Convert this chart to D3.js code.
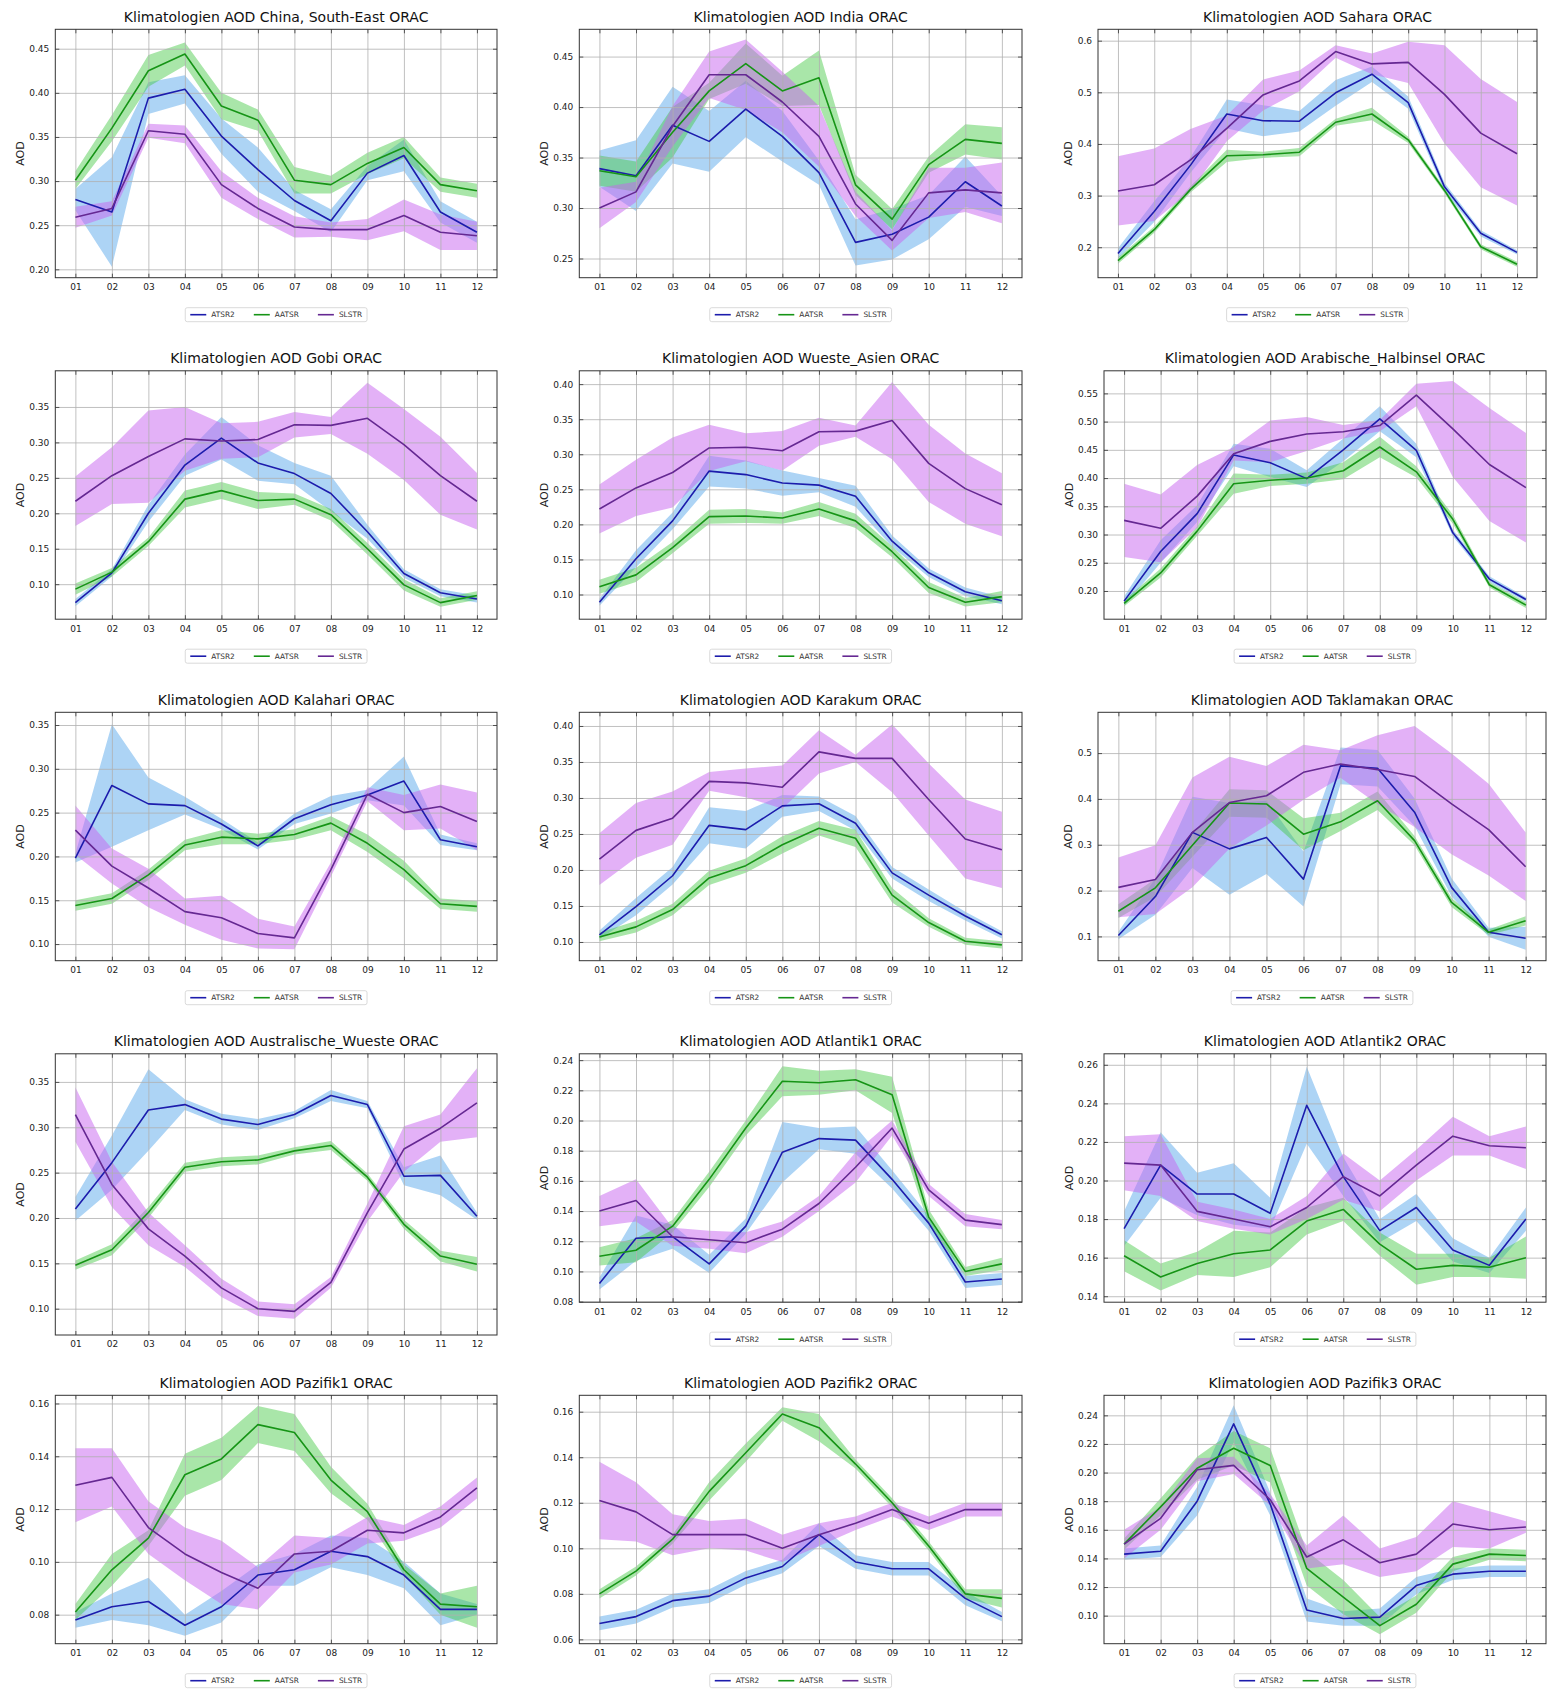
<!DOCTYPE html>
<html><head><meta charset="utf-8">
<script src="https://cdn.jsdelivr.net/npm/d3@7"></script>
<style>body{margin:0;background:#fff} text{font-family:"DejaVu Sans",sans-serif}</style>
</head><body><svg id="c" width="1551" height="1691"></svg>
<script>
const months = ["01","02","03","04","05","06","07","08","09","10","11","12"];
const regions = ["China, South-East","India","Sahara","Gobi","Wueste_Asien","Arabische_Halbinsel","Kalahari","Karakum","Taklamakan","Australische_Wueste","Atlantik1","Atlantik2","Pazifik1","Pazifik2","Pazifik3"];
const seriesNames = ["ATSR2","AATSR","SLSTR"];

const atsr2Mean = [
 [0.279,0.265,0.394,0.404,0.351,0.313,0.278,0.255,0.309,0.329,0.265,0.242],
 [0.339,0.332,0.382,0.366,0.398,0.371,0.335,0.266,0.274,0.291,0.326,0.302],
 [0.188,0.269,0.359,0.458,0.445,0.444,0.499,0.535,0.480,0.317,0.227,0.190],
 [0.074,0.116,0.200,0.268,0.306,0.271,0.256,0.228,0.174,0.115,0.088,0.079],
 [0.089,0.151,0.205,0.276,0.271,0.259,0.256,0.240,0.176,0.131,0.104,0.091],
 [0.182,0.270,0.337,0.441,0.427,0.399,0.450,0.505,0.449,0.303,0.221,0.185],
 [0.198,0.281,0.260,0.258,0.237,0.212,0.243,0.259,0.270,0.286,0.219,0.211],
 [0.110,0.149,0.192,0.262,0.256,0.289,0.292,0.265,0.196,0.165,0.136,0.110],
 [0.102,0.187,0.327,0.291,0.316,0.225,0.472,0.467,0.371,0.207,0.109,0.096],
 [0.210,0.261,0.319,0.325,0.309,0.303,0.314,0.335,0.325,0.246,0.247,0.202],
 [0.092,0.122,0.123,0.105,0.130,0.179,0.188,0.187,0.161,0.132,0.093,0.095],
 [0.175,0.208,0.193,0.193,0.183,0.239,0.202,0.174,0.186,0.164,0.156,0.180],
 [0.078,0.083,0.085,0.076,0.083,0.095,0.097,0.104,0.102,0.095,0.082,0.082],
 [0.067,0.070,0.077,0.079,0.087,0.092,0.106,0.094,0.091,0.091,0.078,0.070],
 [0.143,0.145,0.180,0.234,0.178,0.104,0.098,0.099,0.121,0.129,0.131,0.131]
];
const atsr2Sd = [
 [0.012,0.062,0.018,0.016,0.020,0.025,0.012,0.013,0.008,0.018,0.012,0.012],
 [0.018,0.035,0.038,0.030,0.028,0.025,0.012,0.023,0.025,0.022,0.025,0.010],
 [0.010,0.020,0.015,0.028,0.030,0.020,0.025,0.015,0.012,0.008,0.006,0.004],
 [0.005,0.005,0.012,0.015,0.030,0.025,0.015,0.025,0.010,0.006,0.005,0.005],
 [0.005,0.012,0.012,0.022,0.020,0.018,0.010,0.015,0.008,0.006,0.006,0.005],
 [0.008,0.020,0.015,0.020,0.025,0.015,0.020,0.022,0.012,0.006,0.005,0.004],
 [0.005,0.070,0.030,0.010,0.006,0.004,0.006,0.010,0.006,0.028,0.006,0.004],
 [0.006,0.012,0.012,0.025,0.026,0.015,0.010,0.010,0.008,0.008,0.006,0.005],
 [0.008,0.040,0.078,0.100,0.080,0.060,0.040,0.040,0.030,0.020,0.010,0.025],
 [0.013,0.030,0.045,0.006,0.006,0.006,0.004,0.006,0.004,0.010,0.022,0.004],
 [0.004,0.015,0.008,0.006,0.005,0.020,0.007,0.009,0.006,0.005,0.004,0.004],
 [0.009,0.017,0.011,0.016,0.008,0.020,0.010,0.006,0.007,0.006,0.004,0.006],
 [0.003,0.005,0.009,0.004,0.006,0.004,0.006,0.006,0.007,0.005,0.006,0.002],
 [0.003,0.003,0.003,0.003,0.003,0.003,0.005,0.003,0.003,0.003,0.003,0.002],
 [0.004,0.004,0.010,0.013,0.008,0.008,0.005,0.006,0.006,0.004,0.004,0.004]
];
const aatsrMean = [
 [0.301,0.360,0.425,0.444,0.385,0.369,0.301,0.296,0.320,0.338,0.296,0.289],
 [0.337,0.331,0.375,0.416,0.443,0.416,0.429,0.323,0.289,0.343,0.368,0.364],
 [0.174,0.234,0.312,0.377,0.379,0.384,0.442,0.458,0.408,0.310,0.201,0.167],
 [0.093,0.117,0.160,0.220,0.232,0.218,0.220,0.198,0.150,0.099,0.074,0.084],
 [0.111,0.128,0.167,0.211,0.212,0.209,0.222,0.205,0.161,0.110,0.089,0.097],
 [0.178,0.232,0.306,0.390,0.396,0.400,0.413,0.455,0.411,0.327,0.211,0.175],
 [0.144,0.152,0.179,0.213,0.222,0.220,0.225,0.238,0.215,0.185,0.146,0.143],
 [0.107,0.121,0.145,0.189,0.206,0.235,0.258,0.244,0.165,0.127,0.101,0.096],
 [0.155,0.206,0.299,0.391,0.389,0.323,0.350,0.396,0.309,0.174,0.109,0.134],
 [0.148,0.165,0.206,0.256,0.262,0.264,0.274,0.280,0.245,0.193,0.158,0.149],
 [0.110,0.114,0.130,0.161,0.195,0.226,0.225,0.227,0.217,0.136,0.100,0.105],
 [0.161,0.150,0.157,0.162,0.164,0.179,0.185,0.167,0.154,0.156,0.155,0.160],
 [0.081,0.097,0.109,0.133,0.139,0.152,0.149,0.131,0.119,0.097,0.084,0.083],
 [0.080,0.090,0.104,0.125,0.142,0.159,0.153,0.137,0.120,0.101,0.080,0.078],
 [0.150,0.176,0.203,0.217,0.205,0.133,0.113,0.093,0.108,0.136,0.143,0.142]
];
const aatsrSd = [
 [0.010,0.015,0.018,0.013,0.015,0.012,0.015,0.010,0.012,0.012,0.008,0.008],
 [0.015,0.015,0.025,0.008,0.020,0.015,0.027,0.010,0.010,0.008,0.015,0.016],
 [0.006,0.006,0.006,0.012,0.006,0.008,0.007,0.012,0.006,0.005,0.005,0.005],
 [0.008,0.006,0.006,0.012,0.012,0.012,0.008,0.008,0.008,0.008,0.006,0.006],
 [0.010,0.010,0.008,0.010,0.010,0.008,0.010,0.010,0.008,0.008,0.006,0.008],
 [0.005,0.008,0.008,0.018,0.010,0.010,0.015,0.018,0.010,0.008,0.005,0.005],
 [0.006,0.006,0.006,0.006,0.008,0.006,0.006,0.008,0.010,0.010,0.006,0.006],
 [0.006,0.008,0.008,0.010,0.010,0.012,0.010,0.012,0.010,0.006,0.005,0.005],
 [0.015,0.020,0.025,0.030,0.030,0.035,0.020,0.020,0.010,0.010,0.006,0.010],
 [0.005,0.006,0.006,0.005,0.005,0.005,0.004,0.005,0.004,0.005,0.006,0.008],
 [0.006,0.008,0.004,0.005,0.005,0.010,0.008,0.007,0.012,0.005,0.003,0.004],
 [0.008,0.007,0.006,0.012,0.009,0.007,0.006,0.006,0.008,0.006,0.005,0.011],
 [0.003,0.006,0.003,0.008,0.008,0.007,0.007,0.005,0.003,0.002,0.004,0.008],
 [0.002,0.002,0.002,0.004,0.004,0.003,0.006,0.002,0.002,0.002,0.002,0.004],
 [0.004,0.006,0.008,0.012,0.012,0.012,0.012,0.006,0.006,0.005,0.004,0.004]
];
const slstrMean = [
 [0.259,0.269,0.357,0.353,0.296,0.269,0.248,0.245,0.245,0.261,0.242,0.238],
 [0.300,0.316,0.381,0.432,0.432,0.405,0.371,0.304,0.268,0.315,0.318,0.315],
 [0.309,0.321,0.369,0.430,0.495,0.522,0.579,0.555,0.558,0.496,0.421,0.381],
 [0.217,0.253,0.280,0.305,0.302,0.304,0.325,0.324,0.334,0.297,0.253,0.217],
 [0.222,0.252,0.274,0.309,0.310,0.305,0.332,0.333,0.348,0.287,0.251,0.228],
 [0.325,0.311,0.368,0.443,0.465,0.478,0.482,0.493,0.547,0.487,0.424,0.383],
 [0.230,0.189,0.164,0.137,0.130,0.112,0.107,0.185,0.271,0.250,0.257,0.240],
 [0.215,0.255,0.272,0.323,0.321,0.315,0.364,0.355,0.355,0.298,0.243,0.228],
 [0.207,0.224,0.327,0.392,0.407,0.458,0.476,0.464,0.449,0.389,0.333,0.252],
 [0.314,0.237,0.188,0.158,0.123,0.100,0.097,0.129,0.206,0.276,0.299,0.327],
 [0.140,0.147,0.123,0.121,0.119,0.128,0.145,0.169,0.195,0.154,0.134,0.131],
 [0.209,0.208,0.184,0.180,0.176,0.186,0.202,0.192,0.208,0.223,0.218,0.217],
 [0.129,0.132,0.113,0.103,0.096,0.090,0.103,0.104,0.112,0.111,0.117,0.128],
 [0.121,0.116,0.106,0.106,0.106,0.100,0.106,0.111,0.117,0.111,0.117,0.117],
 [0.150,0.168,0.202,0.205,0.181,0.141,0.153,0.137,0.143,0.164,0.160,0.162]
];
const slstrSd = [
 [0.012,0.008,0.008,0.010,0.015,0.012,0.012,0.008,0.012,0.018,0.020,0.016],
 [0.020,0.010,0.020,0.023,0.035,0.030,0.030,0.012,0.010,0.025,0.022,0.030],
 [0.067,0.070,0.060,0.025,0.030,0.020,0.012,0.020,0.040,0.095,0.105,0.100],
 [0.035,0.040,0.065,0.045,0.025,0.025,0.018,0.012,0.050,0.050,0.055,0.040],
 [0.035,0.040,0.050,0.033,0.020,0.028,0.020,0.008,0.055,0.055,0.050,0.045],
 [0.065,0.060,0.055,0.012,0.037,0.030,0.012,0.010,0.020,0.085,0.100,0.097],
 [0.028,0.020,0.022,0.015,0.025,0.017,0.013,0.008,0.008,0.020,0.025,0.033],
 [0.036,0.038,0.037,0.013,0.020,0.030,0.030,0.005,0.047,0.050,0.055,0.053],
 [0.065,0.075,0.120,0.100,0.065,0.060,0.030,0.075,0.110,0.110,0.100,0.075],
 [0.030,0.025,0.018,0.012,0.010,0.008,0.008,0.006,0.010,0.025,0.015,0.038],
 [0.010,0.014,0.006,0.006,0.007,0.005,0.005,0.010,0.005,0.004,0.004,0.003],
 [0.014,0.016,0.005,0.005,0.004,0.006,0.012,0.008,0.008,0.010,0.005,0.011],
 [0.014,0.011,0.010,0.010,0.012,0.008,0.007,0.005,0.005,0.003,0.004,0.004],
 [0.017,0.013,0.009,0.006,0.007,0.006,0.005,0.003,0.003,0.003,0.003,0.003],
 [0.010,0.008,0.008,0.006,0.004,0.008,0.017,0.010,0.012,0.016,0.013,0.004]
];
const yDomains = [
 [0.1905,0.472],[0.231,0.477],[0.141,0.622],
 [0.0506,0.401],[0.0648,0.419],[0.150,0.590],
 [0.081,0.3645],[0.074,0.419],[0.047,0.589],
 [0.071,0.381],[0.0796,0.2442],[0.1369,0.2657],
 [0.069,0.1631],[0.0581,0.1672],[0.0804,0.254]
];
const yTickLabels = [
 ["0.20","0.25","0.30","0.35","0.40","0.45"],
 ["0.25","0.30","0.35","0.40","0.45"],
 ["0.2","0.3","0.4","0.5","0.6"],
 ["0.10","0.15","0.20","0.25","0.30","0.35"],
 ["0.10","0.15","0.20","0.25","0.30","0.35","0.40"],
 ["0.20","0.25","0.30","0.35","0.40","0.45","0.50","0.55"],
 ["0.10","0.15","0.20","0.25","0.30","0.35"],
 ["0.10","0.15","0.20","0.25","0.30","0.35","0.40"],
 ["0.1","0.2","0.3","0.4","0.5"],
 ["0.10","0.15","0.20","0.25","0.30","0.35"],
 ["0.08","0.10","0.12","0.14","0.16","0.18","0.20","0.22","0.24"],
 ["0.14","0.16","0.18","0.20","0.22","0.24","0.26"],
 ["0.08","0.10","0.12","0.14","0.16"],
 ["0.06","0.08","0.10","0.12","0.14","0.16"],
 ["0.10","0.12","0.14","0.16","0.18","0.20","0.22","0.24"]
];

// ---- styling / layout ----
const lineColors = ["#1c1cac","#169416","#652892"];
const bandColors = ["#4aa0e8","#40c840","#c864f0"];
const bandOpacity = [0.45,0.45,0.5];
const colLR = [[55.3,497],[579.3,1022]];
const col3LR = [[1098,1537],[1104,1546],[1098,1546],[1104,1546],[1104,1546]];
const rowTop0 = 29.3, rowBottom0 = 277.7, rowStep = 341.5;

const svg = d3.select("#c");
svg.append("rect").attr("width",1551).attr("height",1691).attr("fill","#fff");

const means = [atsr2Mean, aatsrMean, slstrMean];
const sds = [atsr2Sd, aatsrSd, slstrSd];

regions.forEach((reg, i) => {
  const r = Math.floor(i/3), c = i%3;
  const [left,right] = c < 2 ? colLR[c] : col3LR[r];
  const top = rowTop0 + r*rowStep;
  let bottom = rowBottom0 + r*rowStep;
  const noLegend = (i === 9);
  if (i === 9) bottom = 1335;
  const x = d3.scaleLinear().domain([0.45, 12.55]).range([left, right]);
  const y = d3.scaleLinear().domain(yDomains[i]).range([bottom, top]);
  const ticks = yTickLabels[i].map(Number);
  const g = svg.append("g");
  const clipId = "clip"+i;
  g.append("clipPath").attr("id",clipId).append("rect")
    .attr("x",left).attr("y",top).attr("width",right-left).attr("height",bottom-top);

  // bands
  const bandG = g.append("g").attr("clip-path",`url(#${clipId})`);
  means.forEach((M, s) => {
    const data = M[i].map((m,j)=>({m, s: sds[s][i][j], j}));
    const area = d3.area().x(d=>x(d.j+1)).y0(d=>y(d.m-d.s)).y1(d=>y(d.m+d.s));
    bandG.append("path").datum(data).attr("d",area)
      .attr("fill",bandColors[s]).attr("fill-opacity",bandOpacity[s]).attr("stroke","none");
  });

  // grid
  const gridG = g.append("g");
  gridG.append("g").attr("transform",`translate(0,${bottom})`)
    .call(d3.axisBottom(x).tickValues(d3.range(1,13)).tickSize(-(bottom-top)).tickFormat(""))
    .call(a=>a.select(".domain").remove())
    .selectAll("line").attr("stroke","#b0b0b0").attr("stroke-width",0.8);
  gridG.append("g").attr("transform",`translate(${left},0)`)
    .call(d3.axisLeft(y).tickValues(ticks).tickSize(-(right-left)).tickFormat(""))
    .call(a=>a.select(".domain").remove())
    .selectAll("line").attr("stroke","#b0b0b0").attr("stroke-width",0.8);

  // lines
  const lineG = g.append("g").attr("clip-path",`url(#${clipId})`);
  means.forEach((M, s) => {
    const line = d3.line().x((d,j)=>x(j+1)).y(d=>y(d));
    lineG.append("path").datum(M[i]).attr("d",line)
      .attr("fill","none").attr("stroke",lineColors[s]).attr("stroke-width",1.6)
      .attr("stroke-linejoin","round");
  });

  // axes with inward ticks
  const tickStyle = sel => { sel.select(".domain").remove(); sel.selectAll("line").attr("stroke","#333").attr("stroke-width",0.8); sel.selectAll("text").attr("fill","#222").attr("font-size","9px").attr("font-family","DejaVu Sans, sans-serif"); };
  const yAx = g.append("g").attr("transform",`translate(${left},0)`)
    .call(d3.axisLeft(y).tickValues(ticks).tickFormat((d,k)=>yTickLabels[i][k]).tickSizeInner(-4).tickSizeOuter(0).tickPadding(6))
    .call(tickStyle);
  g.append("g").attr("transform",`translate(${right},0)`)
    .call(d3.axisRight(y).tickValues(ticks).tickFormat("").tickSizeInner(-4).tickSizeOuter(0))
    .call(tickStyle);
  g.append("g").attr("transform",`translate(0,${bottom})`)
    .call(d3.axisBottom(x).tickValues(d3.range(1,13)).tickFormat(d=>months[d-1]).tickSizeInner(-4).tickSizeOuter(0).tickPadding(6))
    .call(tickStyle);
  g.append("g").attr("transform",`translate(0,${top})`)
    .call(d3.axisTop(x).tickValues(d3.range(1,13)).tickFormat("").tickSizeInner(-4).tickSizeOuter(0))
    .call(tickStyle);

  // frame
  g.append("rect").attr("x",left).attr("y",top).attr("width",right-left).attr("height",bottom-top)
    .attr("fill","none").attr("stroke","#333").attr("stroke-width",1);

  // title
  g.append("text").attr("x",(left+right)/2).attr("y",top-7.5).attr("text-anchor","middle")
    .attr("font-size","14px").attr("fill","#111").text(`Klimatologien AOD ${reg} ORAC`);

  // y label
  let tw = 0;
  yAx.selectAll("text").each(function(){ tw = Math.max(tw, this.getBBox().width); });
  const lx = left - 6 - tw - 9, ly = (top+bottom)/2;
  g.append("text").attr("transform",`translate(${lx},${ly}) rotate(-90)`).attr("dy","0.35em")
    .attr("text-anchor","middle").attr("font-size","11px").attr("fill","#222").text("AOD");

  // legend
  if (!noLegend) {
    const lg = g.append("g");
    const cy = bottom + 37;
    let cx = 5;
    seriesNames.forEach((nm, s) => {
      const it = lg.append("g");
      it.append("line").attr("x1",cx).attr("x2",cx+16).attr("y1",0).attr("y2",0)
        .attr("stroke",lineColors[s]).attr("stroke-width",1.6);
      const t = it.append("text").attr("x",cx+21).attr("y",0).attr("dy","0.35em")
        .attr("font-size","7.4px").attr("fill","#333").text(nm);
      cx += 21 + t.node().getBBox().width + (s<2 ? 19 : 5);
    });
    const bw = cx;
    lg.insert("rect",":first-child").attr("x",0).attr("y",-7).attr("width",bw).attr("height",14)
      .attr("rx",2).attr("fill","#fff").attr("fill-opacity",0.8).attr("stroke","#d0d0d0").attr("stroke-width",0.8);
    lg.attr("transform",`translate(${(left+right)/2 - bw/2},${cy})`);
  }
});
</script>
</body></html>
